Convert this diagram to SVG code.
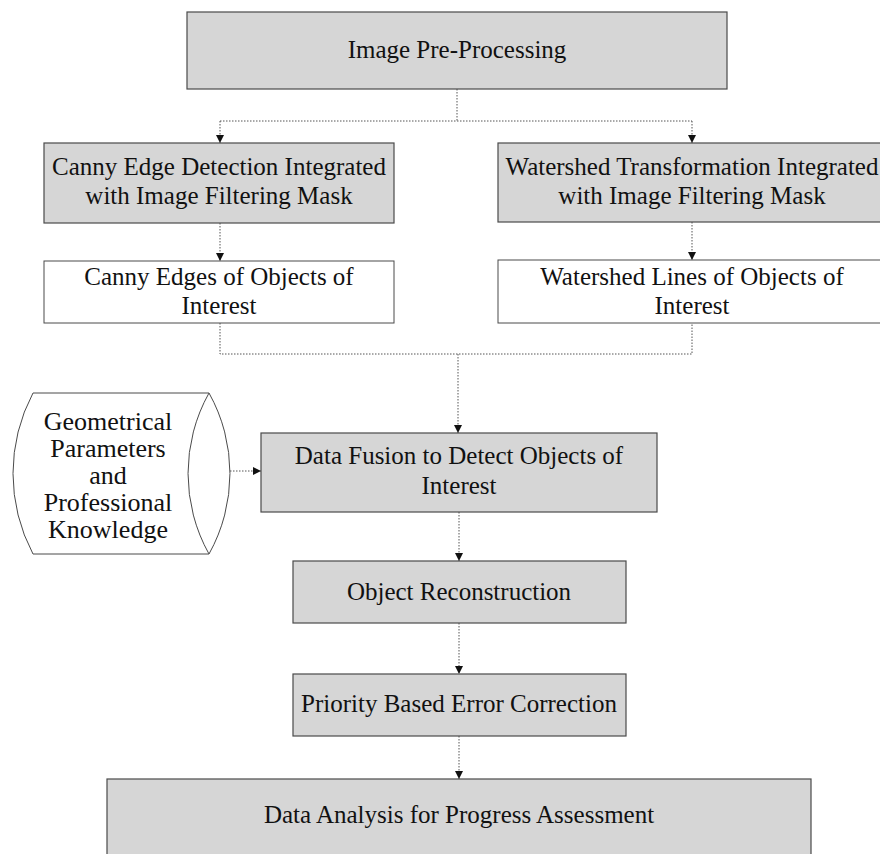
<svg xmlns="http://www.w3.org/2000/svg" width="880" height="854" viewBox="0 0 880 854">
<defs>
<style>
.g{fill:#d6d6d6;stroke:#4a4a4a;stroke-width:1.2}
.w{fill:#ffffff;stroke:#4a4a4a;stroke-width:1}
.t{font-family:"Liberation Serif","Times New Roman",serif;font-size:25px;fill:#111;text-anchor:middle}
.c{fill:none;stroke:#555;stroke-width:1;stroke-dasharray:1.5 1.5}
</style>
<marker id="ah" markerWidth="10" markerHeight="10" refX="9" refY="5" orient="auto" markerUnits="userSpaceOnUse">
<path d="M1,1 L9,5 L1,9 Z" fill="#111"/>
</marker>
</defs>
<rect width="880" height="854" fill="#ffffff"/>

<g id="connectors">
<path class="c" d="M457,89 V121"/>
<path class="c" d="M220,121 H692"/>
<path class="c" d="M220,121 V143" marker-end="url(#ah)"/>
<path class="c" d="M692,121 V143" marker-end="url(#ah)"/>
<path class="c" d="M220,223 V261" marker-end="url(#ah)"/>
<path class="c" d="M692,222 V260" marker-end="url(#ah)"/>
<path class="c" d="M220,323 V354 H692 V323"/>
<path class="c" d="M458,354 V433" marker-end="url(#ah)"/>
<path class="c" d="M212,471 H261" marker-end="url(#ah)"/>
<path class="c" d="M459,512 V561" marker-end="url(#ah)"/>
<path class="c" d="M459,623 V674" marker-end="url(#ah)"/>
<path class="c" d="M459,736 V779" marker-end="url(#ah)"/>
</g>

<g id="preprocessing">
<rect class="g" x="187" y="12" width="540" height="77"/>
<text class="t" x="457" y="58">Image Pre-Processing</text>
</g>

<g id="canny">
<rect class="g" x="44" y="143" width="350" height="80"/>
<text class="t" x="219" y="175">Canny Edge Detection Integrated</text>
<text class="t" x="219" y="204">with Image Filtering Mask</text>
</g>

<g id="watershed">
<rect class="g" x="498" y="143" width="390" height="79"/>
<text class="t" x="692" y="175">Watershed Transformation Integrated</text>
<text class="t" x="692" y="204">with Image Filtering Mask</text>
</g>

<g id="canny-edges">
<rect class="w" x="44" y="261" width="350" height="62"/>
<text class="t" x="219" y="285">Canny Edges of Objects of</text>
<text class="t" x="219" y="314">Interest</text>
</g>

<g id="watershed-lines">
<rect class="w" x="498" y="260" width="390" height="63"/>
<text class="t" x="692" y="285">Watershed Lines of Objects of</text>
<text class="t" x="692" y="314">Interest</text>
</g>

<g id="knowledge">
<path class="w" d="M33,393 H209 A165,165 0 0 1 209,554 H33 A172,172 0 0 1 33,393 Z"/>
<path class="w" fill="none" d="M209,393 A165,165 0 0 0 209,554"/>
<text class="t" style="font-size:26px" x="108" y="430">Geometrical</text>
<text class="t" style="font-size:26px" x="108" y="457">Parameters</text>
<text class="t" style="font-size:26px" x="108" y="484">and</text>
<text class="t" style="font-size:26px" x="108" y="511">Professional</text>
<text class="t" style="font-size:26px" x="108" y="538">Knowledge</text>
</g>

<g id="fusion">
<rect class="g" x="261" y="433" width="396" height="79"/>
<text class="t" x="459" y="464">Data Fusion to Detect Objects of</text>
<text class="t" x="459" y="494">Interest</text>
</g>

<g id="reconstruction">
<rect class="g" x="293" y="561" width="333" height="62"/>
<text class="t" x="459" y="600">Object Reconstruction</text>
</g>

<g id="error-correction">
<rect class="g" x="293" y="674" width="333" height="62"/>
<text class="t" x="459" y="712">Priority Based Error Correction</text>
</g>

<g id="analysis">
<rect class="g" x="107" y="779" width="704" height="90"/>
<text class="t" x="459" y="823">Data Analysis for Progress Assessment</text>
</g>
</svg>
